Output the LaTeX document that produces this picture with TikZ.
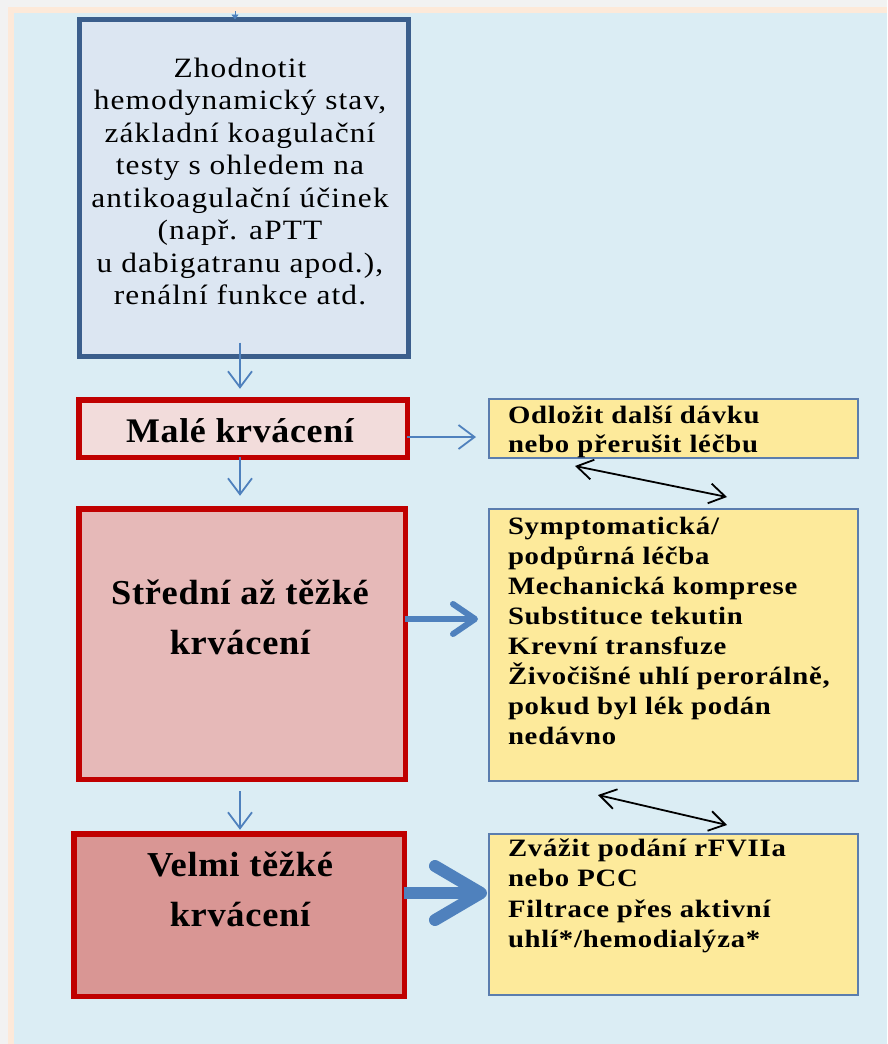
\documentclass[tikz,border=0pt]{standalone}
\usepackage{fontspec}
\setmainfont{Liberation Serif}
\newfontfamily\topfont[FakeStretch=1.12,LetterSpace=4]{Liberation Serif}
\newfontfamily\yelfont[FakeStretch=1.15,LetterSpace=3]{Liberation Serif}
\newfontfamily\bigfont[FakeStretch=1.04,LetterSpace=2]{Liberation Serif}
\usetikzlibrary{arrows.meta,calc}
\definecolor{bggray}{HTML}{F2F2F2}
\definecolor{bgpeach}{HTML}{FDE9D9}
\definecolor{bgblue}{HTML}{DBEDF4}
\definecolor{topfill}{HTML}{DCE6F2}
\definecolor{topdraw}{HTML}{3B5E8C}
\definecolor{redline}{HTML}{C00000}
\definecolor{malefill}{HTML}{F2DCDB}
\definecolor{stredfill}{HTML}{E6B9B8}
\definecolor{velmifill}{HTML}{D99694}
\definecolor{yelfill}{HTML}{FDEA9B}
\definecolor{yeldraw}{HTML}{5B7DAE}
\definecolor{arrblue}{HTML}{4F81BD}
\begin{document}
\begin{tikzpicture}[x=1pt,y=-1pt,
  box/.style={rectangle, inner sep=0pt, outer sep=0pt},
  topbox/.style={box, draw=topdraw, fill=topfill, line width=5pt},
  redbox/.style={box, draw=redline, line width=5.5pt},
  yelbox/.style={box, draw=yeldraw, fill=yelfill, line width=2pt},
  txt/.style={inner sep=0pt, outer sep=0pt, anchor=base},
  ytxt/.style={inner sep=0pt, outer sep=0pt, anchor=base west},
  thinarr/.style={draw=arrblue, line width=1.8pt, -{Straight Barb[length=16pt,width=24pt]}},
  midarr/.style={draw=arrblue, line width=6pt, -{Straight Barb[length=22pt,width=30pt,round]}},
  bigarr/.style={draw=arrblue, line width=12pt, -{Straight Barb[length=46pt,width=54pt,round]}},
  dblarr/.style={draw=black, line width=1.8pt, {Straight Barb[length=16pt,width=20pt]}-{Straight Barb[length=16pt,width=20pt]}}
]
\useasboundingbox (0,0) rectangle (887,1044);
\fill[bggray] (0,0) rectangle (887,1044);
\fill[bgpeach] (8,7) rectangle (887,1044);
\fill[bgblue] (14,13) rectangle (887,1044);

% boxes
\node[topbox, minimum width=329pt, minimum height=337pt] (top) at (244,188) {};
\node[redbox, fill=malefill, minimum width=328.5pt, minimum height=57.5pt] (male) at (243,428.5) {};
\node[redbox, fill=stredfill, minimum width=326.5pt, minimum height=270.5pt] (stred) at (242,644) {};
\node[redbox, fill=velmifill, minimum width=330.5pt, minimum height=162.5pt] (velmi) at (239,915) {};
\node[yelbox, minimum width=369pt, minimum height=59pt] (y1) at (673.5,428.5) {};
\node[yelbox, minimum width=369pt, minimum height=272pt] (y2) at (673.5,645) {};
\node[yelbox, minimum width=369pt, minimum height=161pt] (y3) at (673.5,914.5) {};

% texts
\node[txt] (toptext) at (240,77) {\parbox[t]{400pt}{\centering\topfont\fontsize{28}{32.5}\selectfont
Zhodnotit\\hemodynamický stav,\\základní koagulační\\testy s ohledem na\\antikoagulační účinek\\(např. aPTT\\u dabigatranu apod.),\\renální funkce atd.}};
\node[txt] (maletext) at (240,442) {\bigfont\bfseries\fontsize{34.5}{40}\selectfont Malé krvácení};
\node[txt] (stredtext) at (240,604) {\parbox[t]{400pt}{\centering\bigfont\bfseries\fontsize{35}{50}\selectfont Střední až těžké\\krvácení}};
\node[txt] (velmitext) at (240,876) {\parbox[t]{400pt}{\centering\bigfont\bfseries\fontsize{35}{50}\selectfont Velmi těžké\\krvácení}};
\node[ytxt] (y1text) at (508,423) {\parbox[t]{420pt}{\raggedright\yelfont\bfseries\fontsize{25}{29}\selectfont Odložit další dávku\\nebo přerušit léčbu}};
\node[ytxt] (y2text) at (508,534) {\parbox[t]{420pt}{\raggedright\yelfont\bfseries\fontsize{25}{30}\selectfont Symptomatická/\\podpůrná léčba\\Mechanická komprese\\Substituce tekutin\\Krevní transfuze\\Živočišné uhlí perorálně,\\pokud byl lék podán\\nedávno}};
\node[ytxt] (y3text) at (508,856) {\parbox[t]{420pt}{\raggedright\yelfont\bfseries\fontsize{25}{30.5}\selectfont Zvážit podání rFVIIa\\nebo PCC\\Filtrace přes aktivní\\uhlí*/hemodialýza*}};

% incoming arrow tip at top
\coordinate (incoming) at (235,11);
\draw[draw=arrblue, line width=0.6pt, -{Triangle[length=5pt,width=7pt]}] (incoming) -- ([xshift=-9pt]top.north);

% blue connectors
\draw[thinarr, shorten >=11pt] ([xshift=-4pt,yshift=14pt]top.south) -- ([xshift=-3pt]male.north);
\draw[thinarr, shorten >=13pt] ([yshift=-8.5pt]male.east) -- ([yshift=-8.5pt]male.east -| y1.west);
\draw[thinarr, shorten >=13pt] ([xshift=-3pt]male.south) -- ([xshift=-2pt]stred.north);
\draw[midarr, shorten >=11pt] ([yshift=25pt]stred.east) -- ([yshift=25pt]stred.east -| y2.west);
\draw[thinarr, shorten >=4pt] ([xshift=-2pt,yshift=-12pt]stred.south) -- ([xshift=1pt]velmi.north);
\draw[bigarr, shorten >=2pt] ([yshift=22pt]velmi.east) -- ([yshift=22pt]velmi.east -| y3.west);

% black double arrows
\coordinate (d1a) at (575,466);
\coordinate (d1b) at (727,497);
\coordinate (d2a) at (598,795);
\coordinate (d2b) at (727,825);
\draw[dblarr] (d1a) -- (d1b);
\draw[dblarr] (d2a) -- (d2b);
\end{tikzpicture}
\end{document}
